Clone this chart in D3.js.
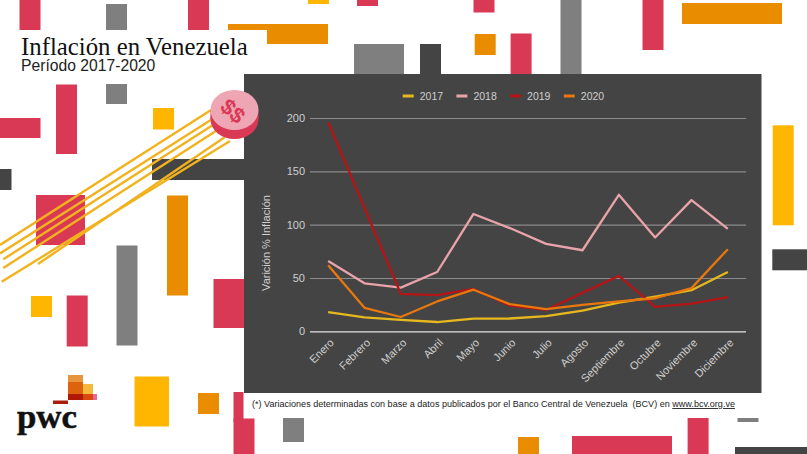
<!DOCTYPE html>
<html>
<head>
<meta charset="utf-8">
<script src="https://cdn.jsdelivr.net/npm/d3@7"></script>
<style>
  html, body { margin: 0; padding: 0; background: #fff; }
  svg { display: block; }
  text { font-family: "Liberation Sans", Arial, sans-serif; }
</style>
</head>
<body>
<svg id="chart" width="807" height="454"></svg>
<script>
// chart data
const months = ["Enero", "Febrero", "Marzo", "Abril", "Mayo", "Junio", "Julio", "Agosto", "Septiembre", "Octubre", "Noviembre", "Diciembre"];
const years = ["2017", "2018", "2019", "2020"];
const values2017 = [18, 13, 10.7, 8.7, 11.8, 12, 14.3, 19.3, 26.8, 32.4, 38.5, 55.6];
const values2018 = [66, 45, 41, 55.6, 110, 96.8, 82, 76, 128, 88, 123, 96];
const values2019 = [196, 115.6, 35, 34, 39.7, 24, 20, 36, 52, 23, 26, 32];
const values2020 = [62, 22, 13.4, 28, 39, 25.5, 20.8, 24.7, 28, 31, 40.5, 77];
const yTicks = [0, 50, 100, 150, 200];
const lineColors = ["#e6b81e", "#e8a3ab", "#b51516", "#e8770e"];

// background blocks of the slide: [x, y, w, h]
const crimsonBlocks = [[19.5, 0, 21, 30], [188, 0, 21, 30], [56, 84.5, 21, 69.5], [0, 118, 40.5, 20], [36, 195, 49, 50],
  [213.5, 279, 31, 49], [66.7, 295.5, 21, 51], [357, 0, 21, 6], [473.5, 0, 21, 12.5], [510.6, 33.5, 21, 41], [642.5, 0, 21, 50],
  [233.5, 392, 10, 30], [233.5, 418.5, 21, 36], [572, 436, 100, 18], [687.6, 418, 21, 36]];
const grayBlocks = [[106, 4, 21, 26], [106, 84, 21, 20], [116.5, 245.5, 21, 100], [354, 44, 50, 30], [560.5, 0, 21, 74], [283, 418, 21, 24], [737.5, 418, 21, 4]];
const darkBlocks = [[0, 169, 11.5, 21], [152, 159, 92, 21], [420, 44, 21, 30], [772.3, 249.3, 35, 21], [735, 447, 72, 7]];
const orangeBlocks = [[228, 24, 100, 6], [267, 24, 61, 20], [167, 195.5, 21, 100], [198, 393, 21, 21], [474.7, 34, 21, 21], [682, 3, 100, 21], [518, 437, 21, 17]];
const yellowBlocks = [[153, 108, 21, 21.5], [31, 296, 21, 21], [134.5, 376.5, 34.5, 50], [308, 0, 21, 4], [772.7, 125.3, 21, 100]];
const stripes = [[0, 245, 211, 110], [0, 253.5, 214, 118], [3.3, 259.3, 216, 123], [3.3, 268, 219, 129], [38, 264, 225, 137], [1.7, 281.7, 230, 141]];
const logoBlocks = [[68, 375, 15, 15, "#e8953f"], [83, 384, 10, 16, "#f3b93c"], [68, 382, 15, 12, "#df620d"], [83, 394, 10, 6, "#d9480f"],
  [68, 394, 15, 6, "#b01a04"], [93, 394, 4, 6, "#e8669a"], [53, 400.5, 15, 3.5, "#a8200c"]];

const svg = d3.select("#chart");
const panel = { left: 244, top: 74, right: 761.5, bottom: 393 };
const plot = { left: 310, right: 746, top: 118, bottom: 331.3 };

function drawBlocks(list, color) {
  svg.append("g").selectAll("rect")
    .data(list)
    .join("rect")
    .attr("x", d => d[0])
    .attr("y", d => d[1])
    .attr("width", d => d[2])
    .attr("height", d => d[3])
    .attr("fill", color);
}
drawBlocks(crimsonBlocks, "#d93954");
drawBlocks(grayBlocks, "#7f7f7f");
drawBlocks(darkBlocks, "#444444");
drawBlocks(orangeBlocks, "#e98c00");
drawBlocks(yellowBlocks, "#ffb600");

// title
svg.append("text").attr("x", 21).attr("y", 55)
  .style("font-family", "'Liberation Serif', serif").style("font-size", "24.8px").attr("fill", "#111")
  .text("Inflación en Venezuela");
svg.append("text").attr("x", 21).attr("y", 71)
  .style("font-size", "15.7px").attr("fill", "#222")
  .text("Período 2017-2020");

// dark panel behind the chart
svg.append("rect")
  .attr("x", panel.left).attr("y", panel.top)
  .attr("width", panel.right - panel.left).attr("height", panel.bottom - panel.top)
  .attr("fill", "#444444");

// coin and its trail
svg.append("g").selectAll("line")
  .data(stripes)
  .join("line")
  .attr("x1", d => d[0]).attr("y1", d => d[1])
  .attr("x2", d => d[2]).attr("y2", d => d[3])
  .attr("stroke", "#f2b21e").attr("stroke-width", 2.4);
svg.append("ellipse").attr("cx", 234.5).attr("cy", 119).attr("rx", 24).attr("ry", 20).attr("fill", "#d93954");
svg.append("rect").attr("x", 210.5).attr("y", 110).attr("width", 48).attr("height", 9).attr("fill", "#d93954");
svg.append("ellipse").attr("cx", 234.5).attr("cy", 110).attr("rx", 24).attr("ry", 20).attr("fill", "#eea6b4");
svg.append("text")
  .attr("transform", "translate(233,111) rotate(42)")
  .attr("text-anchor", "middle").attr("dy", "0.35em")
  .style("font-size", "22px").style("font-weight", "bold").attr("fill", "#d93954")
  .text("$$");

// scales
const x = d3.scalePoint().domain(months).range([plot.left, plot.right]).padding(0.5);
const y = d3.scaleLinear().domain([0, 200]).range([plot.bottom, plot.top]);

// Y axis with the gridlines
const yAxis = svg.append("g")
  .attr("transform", `translate(${plot.left},0)`)
  .call(d3.axisLeft(y).tickValues(yTicks).tickSize(-(plot.right - plot.left)).tickPadding(5));
yAxis.select(".domain").remove();
yAxis.selectAll("line").attr("stroke", d => d === 0 ? "#e4e4e4" : "#8a8a8a").attr("stroke-width", 1.2);
yAxis.selectAll("text").attr("fill", "#cfcfcf").style("font-size", "11px");

// X axis
const xAxis = svg.append("g")
  .attr("transform", `translate(0,${plot.bottom})`)
  .call(d3.axisBottom(x).tickSize(0));
xAxis.select(".domain").remove();
xAxis.selectAll("text")
  .attr("fill", "#cfcfcf").style("font-size", "11px")
  .attr("text-anchor", "end")
  .attr("dx", 0).attr("dy", 0).attr("y", 0)
  .attr("transform", "translate(6,12) rotate(-45)");

svg.append("text")
  .attr("transform", "translate(270,243) rotate(-90)")
  .attr("text-anchor", "middle")
  .style("font-size", "11px").attr("fill", "#cfcfcf")
  .text("Varición % Inflación");

// one line per year
const line = d3.line().x((d, i) => x(months[i])).y(d => y(d));
const series = [values2017, values2018, values2019, values2020];
svg.append("g").selectAll("path")
  .data(series)
  .join("path")
  .attr("d", line)
  .attr("fill", "none")
  .attr("stroke", (d, i) => lineColors[i])
  .attr("stroke-width", 2.3)
  .attr("stroke-linejoin", "round");

// legend
const legend = svg.append("g").selectAll("g")
  .data(years)
  .join("g")
  .attr("transform", (d, i) => `translate(${402.7 + i * 53.7},96)`);
legend.append("rect").attr("x", 0).attr("y", -1.5).attr("width", 11).attr("height", 3)
  .attr("fill", (d, i) => lineColors[i]);
legend.append("text").attr("x", 17).attr("y", 4)
  .style("font-size", "10.5px").attr("fill", "#cfcfcf")
  .text(d => d);

// footnote
const note = svg.append("text").attr("x", 252).attr("y", 407)
  .style("font-size", "9.05px").attr("fill", "#222");
note.append("tspan").text("(*) Variaciones determinadas con base a datos publicados por el Banco Central de Venezuela  (BCV) en ").attr("xml:space", "preserve");
note.append("tspan").text("www.bcv.org.ve").attr("text-decoration", "underline");

// pwc logo
svg.append("g").selectAll("rect")
  .data(logoBlocks)
  .join("rect")
  .attr("x", d => d[0]).attr("y", d => d[1])
  .attr("width", d => d[2]).attr("height", d => d[3])
  .attr("fill", d => d[4]);
svg.append("text").attr("x", 17).attr("y", 428)
  .style("font-family", "'Liberation Serif', serif").style("font-size", "33px").style("font-weight", "bold")
  .attr("textLength", 60).attr("lengthAdjust", "spacingAndGlyphs")
  .attr("fill", "#111").attr("stroke", "#111").attr("stroke-width", 0.5)
  .text("pwc");
</script>
</body>
</html>
